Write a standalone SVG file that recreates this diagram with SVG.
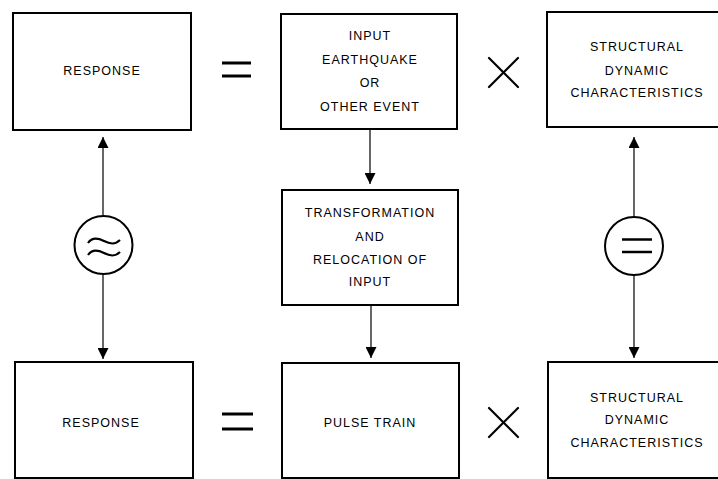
<svg xmlns="http://www.w3.org/2000/svg" width="718" height="479" viewBox="0 0 718 479">
<style>
.box{fill:#fff;stroke:#000;stroke-width:2}
.t{font-family:"Liberation Sans","DejaVu Sans",sans-serif;font-size:12.5px;letter-spacing:1px;text-anchor:middle;fill:#000}
.c{fill:none;stroke:#000;stroke-width:1.2}
.op{fill:none;stroke:#000;stroke-width:3}
.opx{fill:none;stroke:#000;stroke-width:2.2;stroke-linecap:round}
.ring{fill:#fff;stroke:#000;stroke-width:2}
</style>
<defs>
<marker id="ah" viewBox="0 0 10 10" refX="10" refY="5" markerWidth="11" markerHeight="11" markerUnits="userSpaceOnUse" orient="auto">
<path d="M0,0 L10,5 L0,10 Z" fill="#000"/>
</marker>
</defs>
<rect width="718" height="479" fill="#fff"/>
<g id="connectors">
<line class="c" x1="103" y1="215" x2="103" y2="137" marker-end="url(#ah)"/>
<line class="c" x1="103" y1="275" x2="103" y2="359" marker-end="url(#ah)"/>
<line class="c" x1="370" y1="129" x2="370" y2="184" marker-end="url(#ah)"/>
<line class="c" x1="371" y1="305" x2="371" y2="358" marker-end="url(#ah)"/>
<line class="c" x1="634" y1="216" x2="634" y2="137" marker-end="url(#ah)"/>
<line class="c" x1="634" y1="276" x2="634" y2="358" marker-end="url(#ah)"/>
</g>
<g id="n_response_top">
<rect class="box" x="13" y="13" width="178" height="117"/>
<text class="t" x="102" y="75">RESPONSE</text>
</g>
<g id="n_input">
<rect class="box" x="281" y="14" width="176" height="115"/>
<text class="t" x="370" y="40">INPUT</text>
<text class="t" x="370" y="64">EARTHQUAKE</text>
<text class="t" x="370" y="87">OR</text>
<text class="t" x="370" y="111">OTHER EVENT</text>
</g>
<g id="n_struct_top">
<rect class="box" x="547" y="12" width="172" height="115"/>
<text class="t" x="637" y="51">STRUCTURAL</text>
<text class="t" x="637" y="75">DYNAMIC</text>
<text class="t" x="637" y="97">CHARACTERISTICS</text>
</g>
<g id="n_transform">
<rect class="box" x="282" y="190" width="176" height="115"/>
<text class="t" x="370" y="217">TRANSFORMATION</text>
<text class="t" x="370" y="241">AND</text>
<text class="t" x="370" y="264">RELOCATION OF</text>
<text class="t" x="370" y="286">INPUT</text>
</g>
<g id="n_response_bottom">
<rect class="box" x="15" y="362" width="178" height="116"/>
<text class="t" x="101" y="427">RESPONSE</text>
</g>
<g id="n_pulse">
<rect class="box" x="282" y="363" width="177" height="115"/>
<text class="t" x="370" y="427">PULSE TRAIN</text>
</g>
<g id="n_struct_bottom">
<rect class="box" x="548" y="362" width="171" height="116"/>
<text class="t" x="637" y="402">STRUCTURAL</text>
<text class="t" x="637" y="424">DYNAMIC</text>
<text class="t" x="637" y="447">CHARACTERISTICS</text>
</g>
<g id="op_eq_top">
<line class="op" x1="222" y1="63" x2="251" y2="63"/>
<line class="op" x1="222" y1="76" x2="251" y2="76"/>
</g>
<g id="op_x_top">
<line class="opx" x1="489" y1="58" x2="518" y2="87"/>
<line class="opx" x1="518" y1="58" x2="489" y2="87"/>
</g>
<g id="op_eq_bottom">
<line class="op" x1="222" y1="414" x2="253" y2="414"/>
<line class="op" x1="222" y1="429" x2="253" y2="429"/>
</g>
<g id="op_x_bottom">
<line class="opx" x1="489" y1="408" x2="518" y2="437"/>
<line class="opx" x1="518" y1="408" x2="489" y2="437"/>
</g>
<g id="n_approx">
<circle class="ring" cx="103.5" cy="245" r="29"/>
<path d="M88,243 C92,237 98,238 104,241 C110,244 115,245 120,240" fill="none" stroke="#000" stroke-width="2.2"/>
<path d="M88,255 C92,249 98,250 104,253 C110,256 115,257 120,252" fill="none" stroke="#000" stroke-width="2.2"/>
</g>
<g id="n_equal">
<circle class="ring" cx="634" cy="246" r="29"/>
<line x1="622" y1="239.5" x2="652" y2="239.5" stroke="#000" stroke-width="2.5"/>
<line x1="622" y1="252" x2="652" y2="252" stroke="#000" stroke-width="2.5"/>
</g>
</svg>
